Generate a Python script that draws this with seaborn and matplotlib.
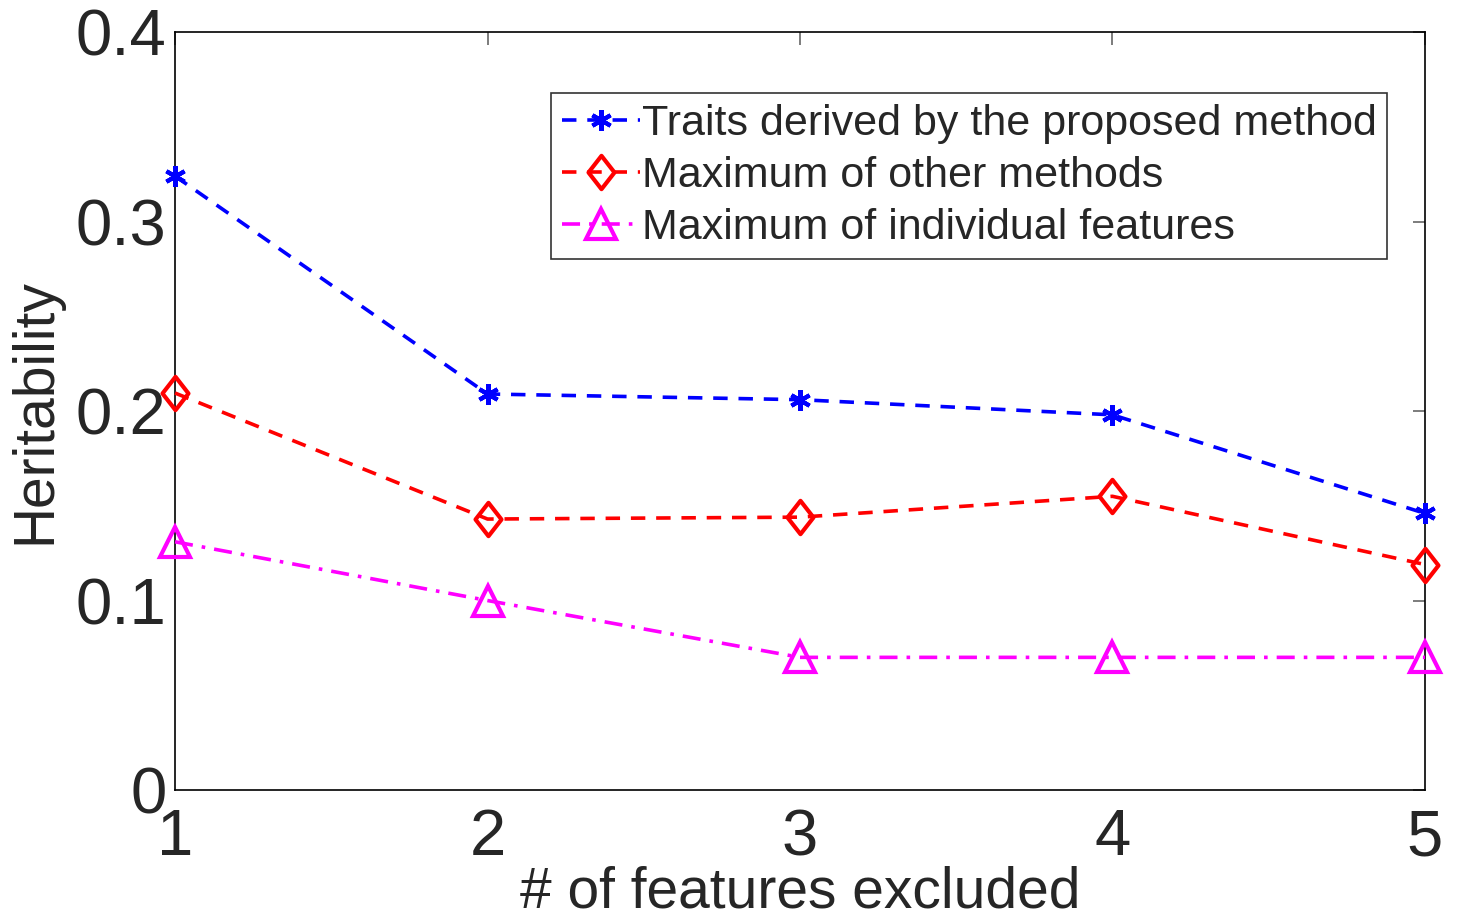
import seaborn as sns
import matplotlib.pyplot as plt
import pandas as pd
from matplotlib.path import Path

n_excluded = [1, 2, 3, 4, 5]
proposed = [0.324, 0.209, 0.206, 0.198, 0.146]
other_methods = [0.2095, 0.143, 0.144, 0.155, 0.119]
individual = [0.131, 0.100, 0.070, 0.070, 0.070]
labels = ['Traits derived by the proposed method',
          'Maximum of other methods',
          'Maximum of individual features']

sns.set_theme(style='white')
plt.rcParams['font.family'] = ['Liberation Sans', 'DejaVu Sans']

df = pd.DataFrame({'x': n_excluded, 'p': proposed, 'o': other_methods, 'i': individual})

diamond = Path([(0, 1), (0.78, 0), (0, -1), (-0.78, 0), (0, 1)],
               [Path.MOVETO, Path.LINETO, Path.LINETO, Path.LINETO, Path.CLOSEPOLY])

fig, ax = plt.subplots(figsize=(14.6, 9.17), dpi=100)
plt.subplots_adjust(left=0.1199, right=0.976, bottom=0.1385, top=0.965)

sns.lineplot(data=df, x='x', y='p', ax=ax, color='#0000ff', linestyle=(0, (4, 3)),
             lw=2.6, marker=(6, 2, 0), ms=15, mew=3, mec='#0000ff', label=labels[0],
             clip_on=False, zorder=5)
sns.lineplot(data=df, x='x', y='o', ax=ax, color='#ff0000', linestyle=(0, (4, 3)),
             lw=2.6, marker=diamond, ms=24, mew=3, mfc='none', mec='#ff0000',
             label=labels[1], clip_on=False, zorder=5)
sns.lineplot(data=df, x='x', y='i', ax=ax, color='#ff00ff', linestyle=(0, (5, 2.5, 1, 2.5)),
             lw=2.6, marker='^', ms=22, mew=3, mfc='none', mec='#ff00ff',
             label=labels[2], clip_on=False, zorder=5)

ax.set_xlim(1, 5)
ax.set_ylim(0, 0.4)
ax.set_xticks([1, 2, 3, 4, 5])
ax.set_yticks([0, 0.1, 0.2, 0.3, 0.4])
ax.set_yticklabels(['0', '0.1', '0.2', '0.3', '0.4'])
ax.tick_params(axis='both', direction='in', length=9, width=1.2, color='#666666',
               labelsize=47, labelcolor='#262626', top=True, right=True)
ax.tick_params(axis='x', pad=13)
ax.tick_params(axis='y', pad=6)
for s in ax.spines.values():
    s.set_color('black')
    s.set_linewidth(1.2)

ax.set_xlabel('# of features excluded', fontsize=41, color='#262626', labelpad=-2)
ax.set_ylabel('Heritability', fontsize=41, color='#262626', labelpad=10)

leg = ax.legend(loc='upper right', bbox_to_anchor=(0.970, 0.9195), borderaxespad=0,
                fontsize=31, frameon=True, fancybox=False, handlelength=1.8,
                handletextpad=0.05, labelspacing=0.28, borderpad=0.25)
leg.get_frame().set_edgecolor('black')
leg.get_frame().set_linewidth(1.2)
for t in leg.get_texts():
    t.set_color('#262626')

plt.savefig('out.png', dpi=100)
plt.close()
